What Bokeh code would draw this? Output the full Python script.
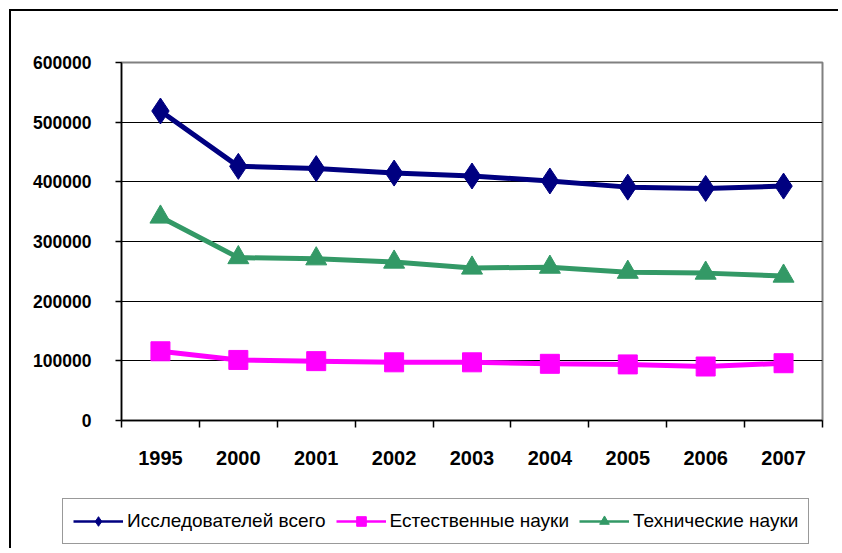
import numpy as np
from bokeh.plotting import figure
from bokeh.layouts import column, row
from bokeh.models import (Range1d, LinearAxis, FixedTicker, BasicTickFormatter,
                          Legend, LegendItem)
from bokeh.embed import file_html
from bokeh.resources import INLINE

years = ["1995", "2000", "2001", "2002", "2003", "2004", "2005", "2006", "2007"]
total = [518690, 425954, 422177, 414676, 409775, 401425, 391121, 388939, 392849]
natural = [116000, 101500, 99500, 97500, 97500, 95000, 94000, 90500, 96000]
technical = [341000, 273000, 271000, 265500, 255500, 257000, 248500, 247000, 242000]
series_names = ["Исследователей всего", "Естественные науки", "Технические науки"]
y_ticks = [0, 100000, 200000, 300000, 400000, 500000, 600000]

NAVY = "#000080"
MAGENTA = "#FF00FF"
GREEN = "#339966"
FONT = "Liberation Sans"

idx = np.arange(len(years))

p = figure(width=829, height=479, output_backend="svg", toolbar_location=None,
           x_range=Range1d(-0.5, len(years) - 0.5), y_range=Range1d(0, 600000),
           x_axis_location=None, y_axis_location=None,
           min_border_left=110, min_border_right=18, min_border_top=51,
           min_border_bottom=70)
p.outline_line_color = "#808080"
p.outline_line_width = 2
p.background_fill_color = "white"
p.border_fill_color = "white"

# axes
xaxis = LinearAxis(ticker=FixedTicker(ticks=list(idx.astype(float)),
                                      minor_ticks=list(np.arange(len(years) + 1) - 0.5)),
                   major_label_overrides={float(i): y for i, y in zip(idx, years)})
xaxis.major_tick_out = 0
xaxis.major_tick_in = 0
xaxis.minor_tick_out = 7
xaxis.minor_tick_in = 0
xaxis.minor_tick_line_color = "black"
xaxis.minor_tick_line_width = 1.5
xaxis.axis_line_color = "black"
xaxis.axis_line_width = 1.5
xaxis.major_label_text_font = FONT
xaxis.major_label_text_font_style = "bold"
xaxis.major_label_text_font_size = "20px"
xaxis.major_label_text_color = "black"
xaxis.major_label_standoff = 23
p.add_layout(xaxis, "below")

yaxis = LinearAxis(ticker=FixedTicker(ticks=y_ticks),
                   formatter=BasicTickFormatter(use_scientific=False))
yaxis.major_tick_out = 6
yaxis.major_tick_in = 0
yaxis.minor_tick_line_color = None
yaxis.major_tick_line_color = "black"
yaxis.major_tick_line_width = 1.5
yaxis.axis_line_color = "black"
yaxis.axis_line_width = 1.5
yaxis.major_label_text_font = FONT
yaxis.major_label_text_font_style = "bold"
yaxis.major_label_text_font_size = "17.5px"
yaxis.major_label_text_color = "black"
yaxis.major_label_standoff = 24
p.add_layout(yaxis, "left")

p.xgrid.grid_line_color = None
p.ygrid.grid_line_color = "black"
p.ygrid.grid_line_width = 1
p.ygrid.ticker = FixedTicker(ticks=y_ticks)

# data series
p.line(idx, technical, line_color=GREEN, line_width=5)
p.scatter(idx, technical, marker="triangle", size=21, fill_color=GREEN, line_color=GREEN)
p.line(idx, natural, line_color=MAGENTA, line_width=5)
p.scatter(idx, natural, marker="square", size=19, fill_color=MAGENTA, line_color=MAGENTA)
p.line(idx, total, line_color=NAVY, line_width=5)
p.scatter(idx, total, marker="diamond", size=26, fill_color=NAVY, line_color=NAVY)

# legend strip below the chart (series drawn off-view, only their legend keys show)
lf = figure(width=829, height=60, output_backend="svg", toolbar_location=None,
            x_range=Range1d(-0.5, len(years) - 0.5), y_range=Range1d(0, 1),
            x_axis_location=None, y_axis_location=None, min_border=0)
lf.outline_line_color = None
lf.xgrid.grid_line_color = None
lf.ygrid.grid_line_color = None
lf.background_fill_color = "white"
lf.border_fill_color = "white"

items = []
for name, col, mk, vals in zip(series_names, [NAVY, MAGENTA, GREEN],
                               ["diamond", "square", "triangle"], [total, natural, technical]):
    lr = lf.line(idx, vals, line_color=col, line_width=2.5)
    sr = lf.scatter(idx, vals, marker=mk, fill_color=col, line_color=col)
    items.append(LegendItem(label=name, renderers=[lr, sr]))

legend = Legend(items=items, orientation="horizontal", location=(51, 6))
legend.label_text_font = FONT
legend.label_text_font_size = "19px"
legend.label_text_color = "black"
legend.glyph_width = 50
legend.glyph_height = 24
legend.label_standoff = 4
legend.spacing = 10
legend.padding = 10
legend.margin = 0
legend.border_line_color = "#333333"
legend.border_line_width = 1.5
legend.background_fill_color = "white"
legend.background_fill_alpha = 1
lf.add_layout(legend, "center")

layout = column(p, row(lf, spacing=0, styles={"overflow": "hidden"}),
                spacing=0, margin=(11, 0, 0, 11),
                styles={"box-shadow": "-2px -2px 0 0 black", "overflow": "hidden"})

open("out.html", "w").write(file_html(layout, INLINE))
